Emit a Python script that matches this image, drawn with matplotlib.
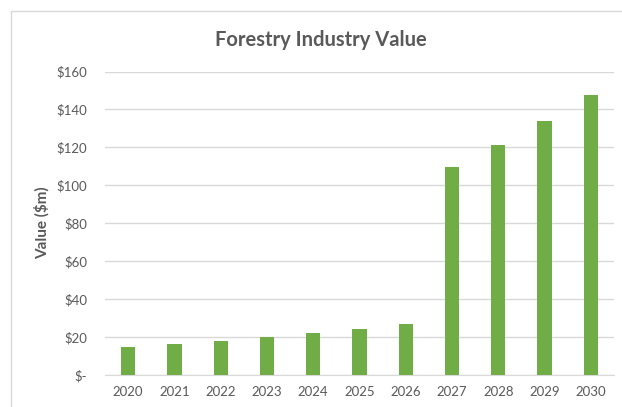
import matplotlib.pyplot as plt
from matplotlib.patches import Rectangle
from matplotlib.ticker import FuncFormatter

years = ["2020", "2021", "2022", "2023", "2024", "2025", "2026", "2027", "2028", "2029", "2030"]
values = [14.9, 16.1, 18.1, 19.8, 21.9, 24.2, 26.7, 109.6, 121.0, 133.7, 147.7]
y_ticks = [0, 20, 40, 60, 80, 100, 120, 140, 160]

W, H = 622, 407
plt.rcParams['font.family'] = ['Lato', 'DejaVu Sans']
fig = plt.figure(figsize=(W / 100, H / 100), dpi=100)

text_color = "#595959"
bar_color = "#70AD47"
grid_color = "#D9D9D9"

# chart frame
fig.patches.append(Rectangle((10.5 / W, -0.1), 1.2, 1 - 11 / H + 0.1, transform=fig.transFigure,
                             fill=False, edgecolor=grid_color, linewidth=1.0))

ax = fig.add_axes([105 / W, 1 - 375 / H, (614 - 105) / W, (375 - 71.5) / H])
x = list(range(len(years)))
ax.bar(x, values, width=0.31, color=bar_color, zorder=3)

ax.set_ylim(0, 160)
ax.set_xlim(-0.5, len(years) - 0.5)
ax.set_yticks(y_ticks)
ax.yaxis.set_major_formatter(FuncFormatter(lambda v, p: "$-" if v == 0 else f"${v:.0f}"))
ax.set_xticks(x)
ax.set_xticklabels(years)
ax.grid(axis="y", color=grid_color, linewidth=1.0, zorder=0)
for s in ["top", "right", "left"]:
    ax.spines[s].set_visible(False)
ax.spines["bottom"].set_color(grid_color)
ax.tick_params(axis="both", length=0, labelsize=9.5, colors=text_color)
ax.tick_params(axis="y", pad=13)
ax.tick_params(axis="x", pad=8)

fig.text(42 / W, 1 - 223 / H, "Value ($m)", rotation=90, ha="center", va="center",
         fontsize=11, fontweight="bold", color=text_color)

fig.text(321 / W, 1 - 40 / H, "Forestry Industry Value", ha="center", va="center",
         fontsize=14.5, fontweight="bold", color=text_color)

fig.savefig("out.png", dpi=100)
